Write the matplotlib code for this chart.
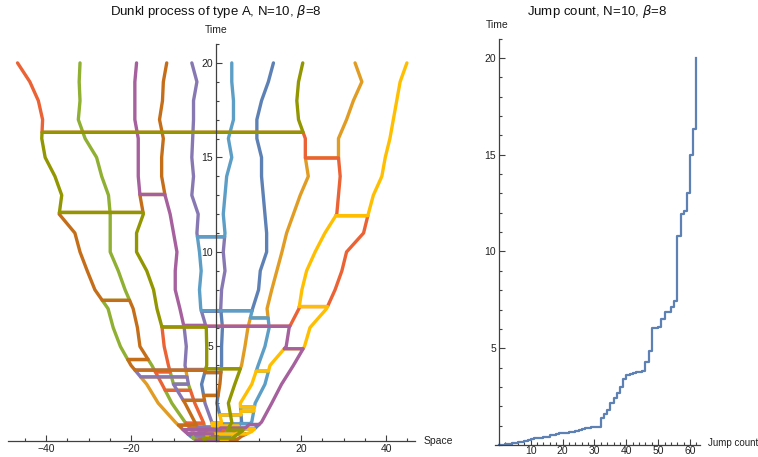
import numpy as np
import matplotlib
matplotlib.use("Agg")
import matplotlib.pyplot as plt
from matplotlib.ticker import MultipleLocator, FixedLocator

plt.rcParams['font.family'] = ['Liberation Sans', 'DejaVu Sans']

# Mathematica default palette, one colour per particle
COLORS = ["#5E81B5", "#E19C24", "#8FB032", "#EB6235", "#8778B3",
          "#C56E1A", "#5D9EC7", "#FFBF00", "#A5609D", "#929600"]
AXIS_COLOR = "#404040"

# particle sitting in each lane (left to right) at t = 20
top_order = [3, 2, 8, 5, 4, 6, 0, 9, 1, 7]

# positions of the 10 ordered lanes, read at these times
lane_times = [0, 0.25, 0.5, 1, 2, 3, 4, 5, 6, 7, 8, 9, 10,
              11, 12, 13, 14, 15, 16, 17, 18, 19, 20]
lane_x = [
    [-4.5, -3.5, -2.6, -1.7, -0.6, 0.5, 1.5, 2.5, 3.5, 4.5],
    [-6.0, -4.6, -3.3, -2.1, -0.8, 0.5, 1.8, 3.0, 4.4, 6.0],
    [-7.3, -5.5, -3.9, -2.3, -0.7, 0.9, 2.5, 4.1, 6.0, 8.4],
    [-9.6, -7.3, -5.0, -3.0, -1.0, 1.3, 3.7, 6.0, 8.4, 10.7],
    [-13.6, -10.4, -7.3, -5.0, -2.6, 0.2, 2.9, 5.7, 9.2, 13.1],
    [-16.3, -12.7, -10.0, -6.5, -3.4, 0.9, 4.4, 8.4, 11.5, 15.4],
    [-20.0, -15.1, -11.2, -7.3, -2.2, 1.3, 6.0, 9.9, 12.7, 18.2],
    [-22.5, -17.9, -12.2, -7.0, -2.2, 1.3, 6.8, 11.5, 16.5, 20.8],
    [-24.2, -18.5, -12.7, -7.5, -2.3, 1.5, 7.5, 12.5, 17.2, 22.1],
    [-25.4, -19.5, -13.9, -8.5, -3.6, 1.1, 8.6, 12.0, 19.5, 26.0],
    [-28.5, -21.4, -14.7, -9.6, -3.9, 1.3, 10.0, 13.1, 20.2, 28.0],
    [-30.3, -23.0, -16.3, -9.6, -3.5, 2.1, 10.4, 14.3, 21.3, 29.6],
    [-32.0, -24.9, -18.7, -9.2, -3.9, 1.7, 11.9, 15.5, 23.3, 30.7],
    [-33.2, -24.9, -18.7, -10.0, -4.5, 2.1, 11.9, 16.6, 25.6, 34.7],
    [-36.9, -24.9, -17.1, -10.8, -4.2, 1.7, 11.5, 18.2, 28.4, 35.8],
    [-36.3, -25.3, -17.9, -12.0, -5.7, 2.1, 11.1, 19.8, 28.8, 37.0],
    [-37.9, -26.9, -18.3, -12.8, -5.3, 2.5, 10.7, 21.7, 29.2, 39.0],
    [-40.2, -28.1, -18.3, -12.8, -5.7, 3.7, 10.7, 21.0, 28.8, 39.8],
    [-41.0, -30.8, -18.3, -12.4, -5.5, 2.9, 9.6, 21.0, 28.8, 40.9],
    [-40.8, -32.4, -19.1, -13.3, -5.3, 4.1, 9.6, 19.4, 30.7, 41.7],
    [-41.8, -32.0, -19.1, -12.6, -5.3, 4.1, 10.7, 19.0, 32.3, 42.5],
    [-43.8, -32.2, -19.1, -12.4, -4.5, 3.7, 12.3, 19.4, 34.3, 43.3],
    [-46.7, -32.0, -18.7, -11.6, -5.7, 3.7, 13.5, 20.4, 32.7, 44.9],
]

# jump (swap) times and the two lanes that exchange particles
jump_times = [0.01, 0.02, 0.04, 0.06, 0.09, 0.12, 0.15, 0.18, 0.22, 0.26,
              0.33, 0.35, 0.37, 0.38, 0.39, 0.40, 0.52, 0.54, 0.58, 0.60,
              0.62, 0.64, 0.66, 0.69, 0.74, 0.80, 0.84, 0.87, 0.90, 0.92,
              0.94, 0.95, 1.38, 1.58, 1.80, 2.15, 2.41, 2.68, 3.01, 3.39,
              3.62, 3.66, 3.70, 3.75, 3.78, 3.82, 4.31, 4.88, 6.03, 6.07,
              6.11, 6.51, 6.87, 6.89, 7.11, 7.44, 10.80, 11.92, 12.09, 13.04,
              14.97, 16.33]
jump_lanes = [(2, 9), (4, 8), (1, 6), (5, 7), (2, 10), (4, 8), (3, 9), (1, 7), (5, 6), (2, 8),
              (6, 8), (3, 7), (4, 10), (1, 5), (7, 8), (2, 6), (5, 8), (3, 6), (7, 9), (1, 4),
              (4, 6), (8, 10), (2, 5), (6, 9), (3, 5), (5, 8), (1, 3), (9, 10), (6, 8), (8, 9),
              (2, 4), (5, 6), (6, 8), (8, 9), (8, 9), (3, 5), (5, 6), (2, 4), (3, 4), (1, 4),
              (5, 6), (2, 3), (8, 9), (1, 5), (4, 5), (5, 7), (1, 2), (9, 10), (3, 5), (5, 9),
              (4, 5), (7, 8), (5, 6), (5, 7), (9, 10), (1, 2), (5, 6), (9, 10), (1, 3), (3, 4),
              (8, 9), (1, 8)]

T_END = 20


def build_paths():
    lt = np.array(lane_times, dtype=float)
    lx = np.array(lane_x, dtype=float)

    def pos(k, t):
        return np.interp(t, lt, lx[:, k])

    order = list(top_order)
    paths = [[] for _ in range(10)]
    for k in range(10):
        paths[order[k]].append((T_END, pos(k, T_END)))

    events = sorted(zip(jump_times, jump_lanes), reverse=True) + [(0.0, None)]
    t_prev = T_END
    for t, pair in events:
        inside = [i for i in range(len(lt) - 1, -1, -1) if t < lt[i] < t_prev]
        for k in range(10):
            p = order[k]
            for i in inside:
                paths[p].append((lt[i], lx[i, k]))
            paths[p].append((t, pos(k, t)))
        if pair is not None:
            a, b = pair[0] - 1, pair[1] - 1
            pa, pb = order[a], order[b]
            paths[pa].append((t, pos(b, t)))
            paths[pb].append((t, pos(a, t)))
            order[a], order[b] = pb, pa
        t_prev = t
    return paths


def style_axis(ax):
    for side in ["top", "right"]:
        ax.spines[side].set_visible(False)
    for side in ["left", "bottom"]:
        ax.spines[side].set_color(AXIS_COLOR)
        ax.spines[side].set_linewidth(0.9)
    ax.spines["left"].set_position(("data", 0))
    ax.spines["bottom"].set_position(("data", 0))
    ax.tick_params(which="both", direction="in", colors=AXIS_COLOR,
                   labelcolor="#222222", labelsize=7.5, width=0.8)
    ax.tick_params(which="major", length=4.5, pad=2)
    ax.tick_params(which="minor", length=2.5)
    ax.patch.set_alpha(0)


fig = plt.figure(figsize=(7.58, 4.57), dpi=100)
W, H = 758, 457

# left panel: particle paths
ax1 = fig.add_axes([8 / W, (H - 441) / H, (415 - 8) / W, (441 - 44) / H])
ax1.set_xlim(-48.94, 46.8)
ax1.set_ylim(0, 21)
for p, pts in enumerate(build_paths()):
    pts = np.array(pts)
    ax1.plot(pts[:, 1], pts[:, 0], color=COLORS[p], lw=2.4,
             solid_joinstyle="round", solid_capstyle="round")
style_axis(ax1)
ax1.xaxis.set_major_locator(FixedLocator([-40, -20, 20, 40]))
ax1.xaxis.set_minor_locator(MultipleLocator(5))
ax1.yaxis.set_major_locator(FixedLocator([5, 10, 15, 20]))
ax1.yaxis.set_minor_locator(MultipleLocator(1))

fig.text(216 / W, 1 - 12 / H, r"Dunkl process of type A, N=10, $\beta$=8",
         ha="center", va="center", fontsize=9.5, color="#111111")
fig.text(216 / W, 1 - 30 / H, "Time", ha="center", va="center",
         fontsize=7.5, color="#222222")
fig.text(424 / W, 1 - 441 / H, "Space", ha="left", va="center",
         fontsize=7.5, color="#222222")

# right panel: cumulative jump count
ax2 = fig.add_axes([495 / W, (H - 445) / H, (700 - 495) / W, (445 - 38.6) / H])
ax2.set_xlim(-1.2, 63.1)
ax2.set_ylim(0, 21)
jt = np.array(jump_times)
n = len(jt)
xs = np.concatenate([[0], np.repeat(np.arange(n + 1), 2)[1:-1], [n]])
ys = np.concatenate([[0], np.repeat(jt, 2), [T_END]])
ax2.plot(xs, ys, color=COLORS[0], lw=1.6)
style_axis(ax2)
ax2.tick_params(axis="x", which="major", pad=1)
ax2.xaxis.set_major_locator(FixedLocator([10, 20, 30, 40, 50, 60]))
ax2.xaxis.set_minor_locator(MultipleLocator(2))
ax2.yaxis.set_major_locator(FixedLocator([5, 10, 15, 20]))
ax2.yaxis.set_minor_locator(MultipleLocator(1))

fig.text(597 / W, 1 - 12 / H, r"Jump count, N=10, $\beta$=8",
         ha="center", va="center", fontsize=9.5, color="#111111")
fig.text(497 / W, 1 - 25 / H, "Time", ha="center", va="center",
         fontsize=7.5, color="#222222")
fig.text(708 / W, 1 - 443 / H, "Jump count", ha="left", va="center",
         fontsize=7, color="#222222")

fig.savefig("out.png", dpi=100)
